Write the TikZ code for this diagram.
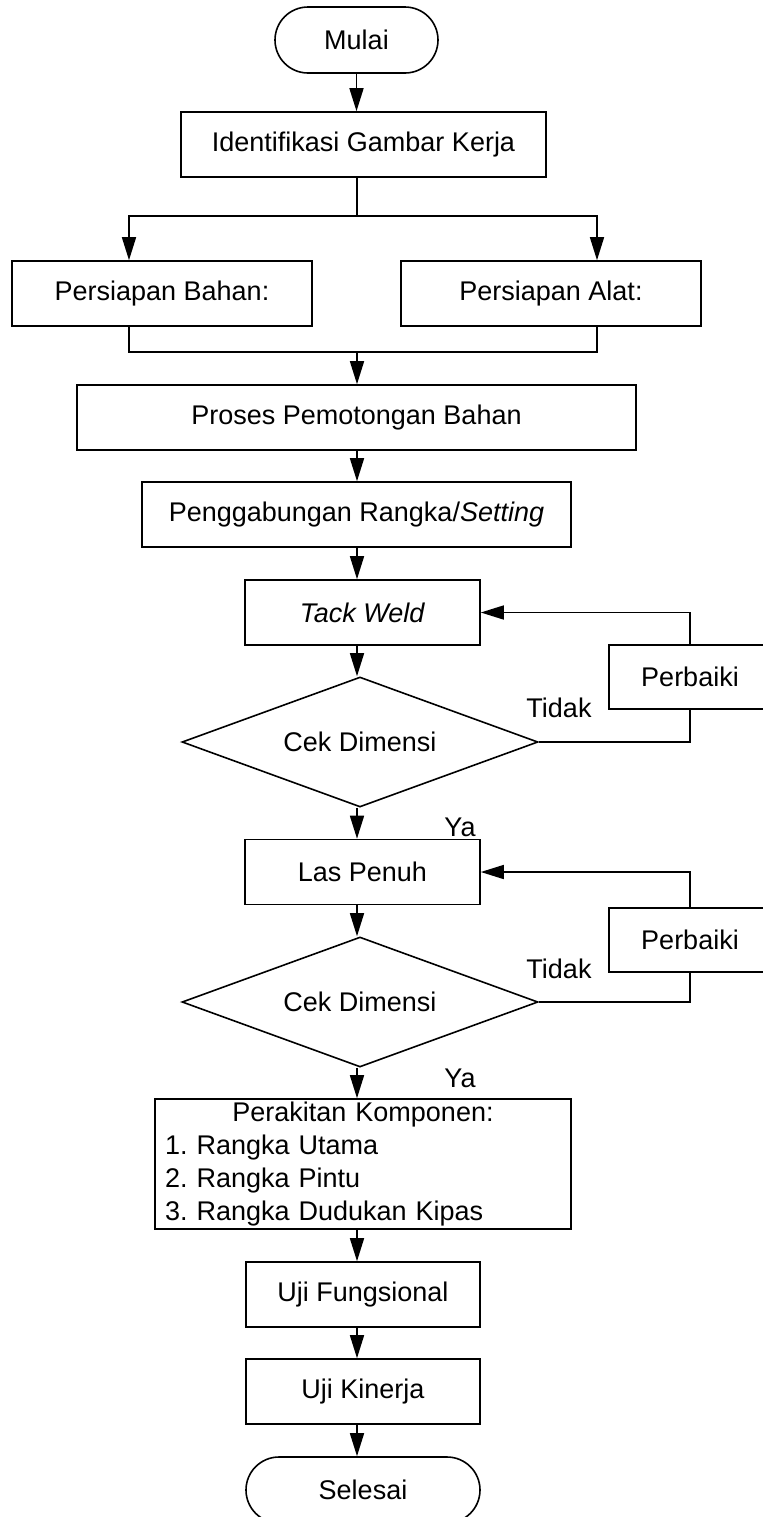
\documentclass[tikz,border=0pt]{standalone}
\usepackage{fontspec}
\setmainfont{Liberation Sans}
\usetikzlibrary{arrows.meta,shapes.geometric,calc}
\frenchspacing

\begin{document}
\begin{tikzpicture}[x=0.5pt,y=-0.5pt,line width=0.8pt,
    every node/.style={font=\fontsize{13.5}{16.5}\selectfont},
    box/.style={draw,rectangle,minimum height=32.5pt,inner sep=2pt},
    term/.style={draw,rectangle,rounded corners=16.5pt,minimum height=33pt},
    cek/.style={draw,diamond,aspect=2.7,minimum width=178pt,minimum height=65pt,inner sep=0pt},
    >={Triangle[length=11.5pt,width=7pt]}]
  \useasboundingbox (0,0) rectangle (762,1517);

  % main column
  \node[term,minimum width=81.5pt] (mulai) at (356.5,40) {Mulai};
  \node[box,minimum width=182.5pt] (ident) at (363.5,144.5) {Identifikasi Gambar Kerja};
  \node[box,minimum width=150pt] (bahan) at (162,293.5) {Persiapan Bahan:};
  \node[box,minimum width=150pt] (alat) at (551,293.5) {Persiapan Alat:};
  \node[box,minimum width=279.5pt] (potong) at (356.5,417.5) {Proses Pemotongan Bahan};
  \node[box,minimum width=214.5pt] (gabung) at (356.5,514.5) {Penggabungan Rangka/\textit{Setting}};
  \node[box,minimum width=117.5pt] (tack) at (362.5,612.5) {\textit{Tack Weld}};
  \node[cek] (cek1) at (360,742) {Cek Dimensi};
  \node[box,minimum width=117.5pt] (las) at (362.5,872) {Las Penuh};
  \node[cek] (cek2) at (360,1002) {Cek Dimensi};
  \node[box,text width=198pt,inner xsep=5pt,inner ysep=1pt,minimum height=65pt,align=left] (rakit) at (363,1164)
    {\makebox[\hsize][c]{Perakitan Komponen:}\\1. Rangka Utama\\2. Rangka Pintu\\3. Rangka Dudukan Kipas};
  \node[box,minimum width=117pt] (fungsi) at (363,1294.5) {Uji Fungsional};
  \node[box,minimum width=117pt] (kinerja) at (363,1391.5) {Uji Kinerja};
  \node[term,minimum width=117pt] (selesai) at (363,1490) {Selesai};

  % repair loops
  \node[box,minimum width=81pt,minimum height=32pt] (fix1) at (690,677) {Perbaiki};
  \node[box,minimum width=81pt,minimum height=32pt] (fix2) at (690,940) {Perbaiki};
  \node (tidak1) at (559,708) {Tidak};
  \node (ya1) at (460,827) {Ya};
  \node (tidak2) at (559,969) {Tidak};
  \node (ya2) at (460,1078) {Ya};

  \coordinate (axis) at (357,0);
  \coordinate (split) at (357,216);
  \coordinate (join) at (357,352);
  \coordinate (lx) at (129,0);
  \coordinate (rx) at (597,0);

  \draw[->] (mulai.south) -- (mulai.south |- ident.north);
  \draw (ident.south -| split) -- (split);
  \draw[->] (split) -| (bahan.north -| lx);
  \draw[->] (split) -| (alat.north -| rx);
  \draw (bahan.south -| lx) |- (join);
  \draw (alat.south -| rx) |- (join);
  \draw[->] (join) -- (potong.north -| join);
  \foreach \a/\b in {potong/gabung,gabung/tack,tack/cek1,cek1/las,las/cek2,cek2/rakit,rakit/fungsi,fungsi/kinerja,kinerja/selesai}
    \draw[->] (\a.south -| axis) -- (\b.north -| axis);

  \draw (cek1.east) -| (fix1.south);
  \draw[->] (fix1.north) |- (tack.east);
  \draw (cek2.east) -| (fix2.south);
  \draw[->] (fix2.north) |- (las.east);
\end{tikzpicture}
\end{document}
